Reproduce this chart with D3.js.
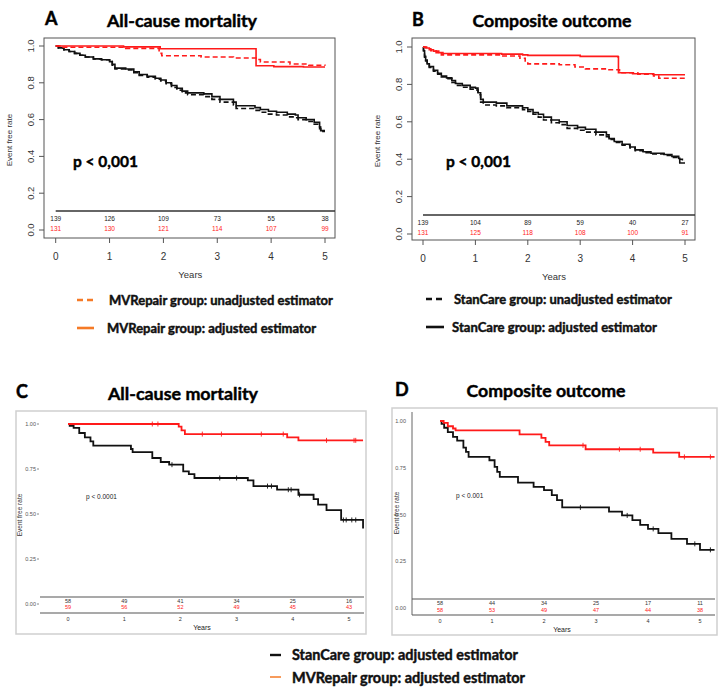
<!DOCTYPE html>
<html><head><meta charset="utf-8">
<script src="https://cdn.jsdelivr.net/npm/d3@7"></script>
<style>body{margin:0;background:#fff}svg{display:block}</style>
</head><body>
<script>
// ---------- DATA ----------
const years = [0, 1, 2, 3, 4, 5];
const yTicksAB = [0, 0.2, 0.4, 0.6, 0.8, 1.0];
const yTicksCD = [0, 0.25, 0.5, 0.75, 1.0];

// numbers at risk
const aRiskStan = [139, 126, 109, 73, 55, 38];
const aRiskMV   = [131, 130, 121, 114, 107, 99];
const bRiskStan = [139, 104, 89, 59, 40, 27];
const bRiskMV   = [131, 125, 118, 108, 100, 91];
const cRiskStan = [58, 49, 41, 34, 25, 16];
const cRiskMV   = [59, 56, 52, 49, 45, 43];
const dRiskStan = [58, 44, 34, 25, 17, 11];
const dRiskMV   = [58, 53, 49, 47, 44, 38];

// Kaplan-Meier steps [time, survival]
const aMVAdj = [[0,1],[1.26,0.995],[1.94,0.985],[3.72,0.893],[4.05,0.888],[4.6,0.886],[5,0.886]];
const aMVUnadj = [[0,1],[0.1,0.993],[1.3,0.987],[1.92,0.96],[1.97,0.947],[2.7,0.94],[3.3,0.935],[3.72,0.927],[3.8,0.913],[4.35,0.902],[4.7,0.895],[5,0.893]];
const aStanAdj = [[0,1],[0.05,0.99],[0.15,0.98],[0.25,0.97],[0.35,0.96],[0.45,0.95],[0.55,0.94],[0.7,0.93],[0.85,0.925],[1.0,0.915],[1.05,0.9],[1.1,0.88],[1.3,0.875],[1.45,0.86],[1.55,0.845],[1.7,0.835],[1.85,0.825],[1.95,0.815],[2.05,0.8],[2.15,0.785],[2.25,0.77],[2.35,0.755],[2.45,0.745],[2.75,0.74],[2.9,0.725],[3.05,0.71],[3.3,0.695],[3.35,0.675],[3.7,0.665],[3.8,0.655],[3.95,0.645],[4.1,0.64],[4.3,0.63],[4.45,0.625],[4.5,0.61],[4.65,0.6],[4.8,0.585],[4.9,0.56],[4.92,0.54],[5,0.54]];
const aStanUnadj = [[0,1],[0.05,0.99],[0.15,0.98],[0.25,0.97],[0.35,0.96],[0.45,0.95],[0.55,0.94],[0.7,0.93],[0.85,0.925],[1.0,0.915],[1.05,0.895],[1.1,0.875],[1.3,0.87],[1.45,0.855],[1.55,0.84],[1.7,0.83],[1.85,0.82],[1.95,0.81],[2.05,0.795],[2.15,0.775],[2.25,0.76],[2.35,0.745],[2.45,0.735],[2.75,0.725],[2.9,0.71],[3.05,0.695],[3.3,0.68],[3.35,0.66],[3.7,0.65],[3.8,0.64],[3.95,0.63],[4.1,0.625],[4.3,0.615],[4.45,0.61],[4.5,0.6],[4.65,0.59],[4.8,0.575],[4.9,0.55],[4.92,0.535],[5,0.535]];

const bMVAdj = [[0,1],[0.05,0.995],[0.12,0.985],[0.2,0.978],[0.3,0.97],[0.38,0.965],[1.5,0.962],[1.9,0.958],[2.0,0.955],[3.0,0.95],[3.72,0.947],[3.73,0.862],[4.0,0.857],[4.4,0.852],[5,0.852]];
const bMVUnadj = [[0,1],[0.07,0.99],[0.15,0.98],[0.25,0.97],[0.35,0.958],[1.5,0.952],[1.85,0.94],[1.95,0.925],[2.0,0.91],[2.6,0.905],[2.9,0.893],[3.1,0.883],[3.5,0.878],[3.75,0.862],[4.1,0.855],[4.4,0.845],[4.5,0.833],[5,0.832]];
const bStanAdj = [[0,1],[0.01,0.98],[0.03,0.95],[0.05,0.93],[0.08,0.91],[0.12,0.895],[0.2,0.875],[0.28,0.86],[0.35,0.845],[0.45,0.835],[0.55,0.82],[0.62,0.805],[0.75,0.795],[0.9,0.785],[1.0,0.78],[1.05,0.755],[1.1,0.72],[1.15,0.705],[1.4,0.7],[1.6,0.685],[1.9,0.675],[2.0,0.665],[2.1,0.65],[2.2,0.64],[2.3,0.625],[2.45,0.61],[2.6,0.6],[2.75,0.58],[2.95,0.57],[3.1,0.56],[3.3,0.545],[3.5,0.53],[3.55,0.51],[3.65,0.495],[3.8,0.48],[3.95,0.465],[4.05,0.45],[4.2,0.44],[4.35,0.432],[4.6,0.425],[4.75,0.415],[4.88,0.405],[4.9,0.38],[5,0.38]];
const bStanUnadj = [[0,1],[0.01,0.975],[0.03,0.945],[0.05,0.925],[0.08,0.905],[0.12,0.89],[0.2,0.87],[0.28,0.855],[0.35,0.84],[0.45,0.83],[0.55,0.81],[0.62,0.795],[0.75,0.785],[0.9,0.775],[1.0,0.77],[1.05,0.745],[1.1,0.705],[1.15,0.69],[1.4,0.685],[1.6,0.675],[1.9,0.665],[2.0,0.655],[2.1,0.64],[2.2,0.625],[2.3,0.61],[2.45,0.595],[2.6,0.585],[2.75,0.565],[2.95,0.555],[3.1,0.545],[3.3,0.53],[3.5,0.52],[3.55,0.505],[3.65,0.49],[3.8,0.475],[3.95,0.46],[4.05,0.445],[4.2,0.435],[4.35,0.428],[4.6,0.42],[4.75,0.41],[4.88,0.4],[4.95,0.39],[5,0.39]];

const cMV = [[0,1],[1.97,0.985],[2.02,0.965],[2.08,0.944],[3.9,0.926],[4.1,0.909],[5.25,0.909]];
const cMVCens = [1.5, 1.6, 2.39, 2.73, 3.44, 3.83, 4.6, 5.09, 5.12];
const cStan = [[0,1],[0.03,0.99],[0.1,0.978],[0.2,0.95],[0.3,0.926],[0.4,0.904],[0.45,0.88],[1.12,0.861],[1.15,0.844],[1.5,0.811],[1.65,0.789],[1.8,0.774],[2.05,0.737],[2.15,0.722],[2.25,0.7],[3.2,0.687],[3.3,0.655],[3.72,0.635],[4.1,0.607],[4.37,0.583],[4.45,0.552],[4.6,0.522],[4.86,0.467],[5.24,0.467],[5.25,0.42]];
const cStanCens = [1.85, 2.7, 3.0, 3.55, 3.62, 3.92, 3.97, 4.12, 4.9, 4.95, 5.05, 5.12];

const dMV = [[0,1],[0.07,0.99],[0.15,0.972],[0.25,0.96],[0.3,0.95],[1.53,0.929],[1.95,0.91],[2.03,0.888],[2.1,0.87],[2.8,0.849],[4.1,0.831],[4.6,0.808],[5.28,0.808]];
const dMVCens = [2.75, 3.45, 3.85, 4.7, 5.2];
const dStan = [[0,1],[0.03,0.985],[0.08,0.964],[0.15,0.941],[0.25,0.915],[0.33,0.895],[0.45,0.858],[0.5,0.835],[0.55,0.808],[0.95,0.79],[1.05,0.755],[1.1,0.728],[1.15,0.701],[1.5,0.67],[1.8,0.648],[2.0,0.63],[2.15,0.604],[2.25,0.577],[2.35,0.538],[3.25,0.515],[3.5,0.495],[3.7,0.47],[3.85,0.444],[4.0,0.423],[4.2,0.4],[4.45,0.37],[4.75,0.343],[5.0,0.311],[5.28,0.311]];
const dStanCens = [2.7, 3.6, 4.1, 4.9, 5.2];

// ---------- DRAW ----------
const RED = "#ff1a1a", ORANGE = "#f57a26", BLACK = "#111";
const svg = d3.select("body").append("svg").attr("width", 728).attr("height", 688);
const line = (x, y) => d3.line().x(d => x(d[0])).y(d => y(d[1])).curve(d3.curveStepAfter);
const calibri = "Lato, 'Open Sans', sans-serif";
const arial = "'Liberation Sans', Arial, sans-serif";

function fitText(sel, width) {
  const fs = parseFloat(sel.attr("font-size"));
  const w = sel.node().getComputedTextLength();
  sel.attr("font-size", (fs * width / w).toFixed(2));
}
function heavy(sel, col) {
  return sel.attr("fill", col).attr("stroke", col).attr("stroke-width", 0.45);
}

function heading(letter, lx, ly, title, cx, cy, w) {
  heavy(svg.append("text").attr("x", lx).attr("y", ly).attr("font-family", calibri).attr("font-weight", 700)
    .attr("font-size", 18).text(letter), "#000");
  const t = heavy(svg.append("text").attr("x", cx).attr("y", cy).attr("text-anchor", "middle")
    .attr("font-family", calibri).attr("font-weight", 700).attr("font-size", 18).text(title), "#000");
  fitText(t, w);
}

// R-style panels (A, B)
function rPanel(o) {
  const g = svg.append("g");
  const x = d3.scaleLinear().domain([0, 5]).range([o.x0, o.x5]);
  const y = d3.scaleLinear().domain([0, 1]).range([o.y0, o.y1]);
  g.append("rect").attr("x", o.l).attr("y", o.t).attr("width", o.r - o.l).attr("height", o.b - o.t)
    .attr("fill", "none").attr("stroke", "#555").attr("stroke-width", 1);
  yTicksAB.forEach(v => {
    g.append("line").attr("x1", o.l - 5).attr("x2", o.l).attr("y1", y(v)).attr("y2", y(v)).attr("stroke", "#555");
    g.append("text").attr("transform", `translate(${o.l - 10},${y(v)}) rotate(-90)`).attr("text-anchor", "middle")
      .attr("font-family", arial).attr("font-size", 9.5).attr("fill", "#333").text(v.toFixed(1));
  });
  years.forEach(v => {
    g.append("line").attr("x1", x(v)).attr("x2", x(v)).attr("y1", o.b).attr("y2", o.b + 5).attr("stroke", "#555");
    g.append("text").attr("x", x(v)).attr("y", o.b + 22).attr("text-anchor", "middle")
      .attr("font-family", arial).attr("font-size", 10).attr("fill", "#333").text(v);
  });
  g.append("text").attr("x", (o.x0 + o.x5) / 2).attr("y", o.b + 40).attr("text-anchor", "middle")
    .attr("font-family", arial).attr("font-size", 9.5).attr("fill", "#333").text("Years");
  g.append("text").attr("transform", `translate(${o.l - 32},${(o.t + o.b) / 2 + 2}) rotate(-90)`).attr("text-anchor", "middle")
    .attr("font-family", arial).attr("font-size", 8).attr("fill", "#333").text("Event free rate");
  g.append("line").attr("x1", o.x0).attr("x2", o.r).attr("y1", o.tableY).attr("y2", o.tableY).attr("stroke", "#333").attr("stroke-width", 1.3);
  years.forEach((v, i) => {
    g.append("text").attr("x", x(v)).attr("y", o.tableY + 10).attr("text-anchor", "middle")
      .attr("font-family", arial).attr("font-size", 6.5).attr("fill", "#222").text(o.riskStan[i]);
    g.append("text").attr("x", x(v)).attr("y", o.tableY + 19.5).attr("text-anchor", "middle")
      .attr("font-family", arial).attr("font-size", 6.5).attr("fill", RED).text(o.riskMV[i]);
  });
  const L = line(x, y);
  g.append("path").attr("d", L(o.stanUnadj)).attr("fill", "none").attr("stroke", BLACK).attr("stroke-width", 1.6).attr("stroke-dasharray", "5,3");
  g.append("path").attr("d", L(o.stanAdj)).attr("fill", "none").attr("stroke", BLACK).attr("stroke-width", 1.6);
  g.append("path").attr("d", L(o.mvUnadj)).attr("fill", "none").attr("stroke", RED).attr("stroke-width", 1.6).attr("stroke-dasharray", "5,3");
  g.append("path").attr("d", L(o.mvAdj)).attr("fill", "none").attr("stroke", RED).attr("stroke-width", 1.6);
  const p = heavy(g.append("text").attr("x", o.px).attr("y", o.py).attr("font-family", calibri).attr("font-weight", 700)
    .attr("font-size", 17).text("p < 0,001"), "#000");
  fitText(p, 65);
}

rPanel({l: 44, r: 335, t: 38, b: 238, x0: 55.7, x5: 325, y0: 230, y1: 46, tableY: 211,
  riskStan: aRiskStan, riskMV: aRiskMV, stanAdj: aStanAdj, stanUnadj: aStanUnadj, mvAdj: aMVAdj, mvUnadj: aMVUnadj, px: 73, py: 167});
rPanel({l: 412, r: 695, t: 38, b: 240, x0: 423, x5: 685, y0: 234, y1: 47, tableY: 215,
  riskStan: bRiskStan, riskMV: bRiskMV, stanAdj: bStanAdj, stanUnadj: bStanUnadj, mvAdj: bMVAdj, mvUnadj: bMVUnadj, px: 446, py: 167});

heading("A", 45, 25, "All-cause mortality", 182, 27, 150);
heading("B", 412, 26, "Composite outcome", 552, 27, 159);

// top legends
function legendItem(x1, x2, ly, dashed, color, tx, ty, label, w) {
  svg.append("line").attr("x1", x1).attr("x2", x2).attr("y1", ly).attr("y2", ly).attr("stroke", color)
    .attr("stroke-width", 2.6).attr("stroke-dasharray", dashed ? "6,4" : null);
  const t = heavy(svg.append("text").attr("x", tx).attr("y", ty).attr("font-family", calibri).attr("font-weight", 700)
    .attr("font-size", 13).text(label), "#111");
  fitText(t, w);
}
legendItem(77, 93, 300, true, ORANGE, 109, 304.5, "MVRepair group: unadjusted estimator", 224);
legendItem(77, 94, 328, false, ORANGE, 107, 332.5, "MVRepair group: adjusted estimator", 209);
legendItem(426, 442, 299, true, BLACK, 454, 304, "StanCare group: unadjusted estimator", 218);
legendItem(426, 444, 327, false, BLACK, 452, 332, "StanCare group: adjusted estimator", 205);

// survminer-style panels (C, D)
function sPanel(o) {
  const g = svg.append("g");
  const x = d3.scaleLinear().domain([0, 5]).range([o.x0, o.x5]);
  const y = d3.scaleLinear().domain([0, 1]).range([o.y0, o.y1]);
  g.append("rect").attr("x", o.bx).attr("y", o.by).attr("width", o.bw).attr("height", o.bh)
    .attr("fill", "none").attr("stroke", "#cfcfcf").attr("stroke-width", 1.5);
  if (o.axisLine) g.append("line").attr("x1", o.ax).attr("x2", o.ax).attr("y1", o.axTop).attr("y2", o.lineB).attr("stroke", "#666");
  yTicksCD.forEach(v => {
    g.append("text").attr("x", o.ylx).attr("y", y(v) + 2).attr("text-anchor", "end")
      .attr("font-family", arial).attr("font-size", 5.5).attr("fill", "#555").text(v.toFixed(2));
    if (!o.axisLine) g.append("line").attr("x1", o.ylx + 1).attr("x2", o.ylx + 3).attr("y1", y(v)).attr("y2", y(v)).attr("stroke", "#888");
  });
  g.append("line").attr("x1", o.ax).attr("x2", o.lr).attr("y1", o.lineT).attr("y2", o.lineT).attr("stroke", "#555").attr("stroke-width", 1.2);
  g.append("line").attr("x1", o.ax).attr("x2", o.lr).attr("y1", o.lineB).attr("y2", o.lineB).attr("stroke", "#555").attr("stroke-width", 1.2);
  years.forEach((v, i) => {
    g.append("text").attr("x", x(v)).attr("y", o.r1).attr("text-anchor", "middle")
      .attr("font-family", arial).attr("font-size", 5.5).attr("fill", "#333").text(o.riskStan[i]);
    g.append("text").attr("x", x(v)).attr("y", o.r2).attr("text-anchor", "middle")
      .attr("font-family", arial).attr("font-size", 5.5).attr("fill", RED).text(o.riskMV[i]);
    g.append("text").attr("x", x(v)).attr("y", o.lineB + 8).attr("text-anchor", "middle")
      .attr("font-family", arial).attr("font-size", 5.5).attr("fill", "#333").text(v);
  });
  g.append("text").attr("x", o.yrx).attr("y", o.lineB + 17).attr("text-anchor", "middle")
    .attr("font-family", arial).attr("font-size", 7).attr("fill", "#222").text("Years");
  g.append("text").attr("transform", `translate(${o.elx},${o.ely}) rotate(-90)`).attr("text-anchor", "middle")
    .attr("font-family", arial).attr("font-size", 6.5).attr("fill", "#333").text("Event free rate");
  g.append("text").attr("x", o.px).attr("y", o.py).attr("font-family", arial).attr("font-size", 6.5).attr("fill", "#222").text(o.ptext);
  const L = line(x, y);
  const lastVal = (pts, t) => { let s = 1; pts.forEach(d => { if (d[0] <= t) s = d[1]; }); return s; };
  [[o.stan, o.stanCens, BLACK], [o.mv, o.mvCens, RED]].forEach(([pts, cens, col]) => {
    g.append("path").attr("d", L(pts)).attr("fill", "none").attr("stroke", col).attr("stroke-width", 1.8);
    cens.forEach(t => {
      const v = lastVal(pts, t);
      g.append("line").attr("x1", x(t)).attr("x2", x(t)).attr("y1", y(v) - 2.5).attr("y2", y(v) + 2.5).attr("stroke", col).attr("stroke-width", 0.9);
    });
  });
}

sPanel({bx: 16, by: 411, bw: 350, bh: 223, x0: 68, x5: 349, y0: 604, y1: 424, axisLine: false, ax: 40, lr: 364,
  ylx: 36, lineT: 597, lineB: 613, r1: 603, r2: 608.5, yrx: 202, elx: 22, ely: 515, px: 86, py: 499, ptext: "p < 0.0001",
  riskStan: cRiskStan, riskMV: cRiskMV, stan: cStan, stanCens: cStanCens, mv: cMV, mvCens: cMVCens});
sPanel({bx: 392, by: 408, bw: 325, bh: 227, x0: 440, x5: 700, y0: 608, y1: 421, axisLine: true, ax: 412, axTop: 412, lr: 715,
  ylx: 406, lineT: 599, lineB: 615, r1: 605, r2: 612, yrx: 562, elx: 399, ely: 513, px: 456, py: 498, ptext: "p < 0.001",
  riskStan: dRiskStan, riskMV: dRiskMV, stan: dStan, stanCens: dStanCens, mv: dMV, mvCens: dMVCens});

heading("C", 16, 398, "All-cause mortality", 183, 400, 150);
heading("D", 395, 396, "Composite outcome", 546, 397, 159);

// bottom legend
function legend2(ly, color, sw, ty, label, w) {
  svg.append("line").attr("x1", 270).attr("x2", 281).attr("y1", ly).attr("y2", ly).attr("stroke", color).attr("stroke-width", sw);
  const t = heavy(svg.append("text").attr("x", 292).attr("y", ty).attr("font-family", calibri).attr("font-weight", 700)
    .attr("font-size", 14).text(label), "#111");
  fitText(t, w);
}
legend2(655, BLACK, 2.4, 660, "StanCare group: adjusted estimator", 226);
legend2(677, ORANGE, 1.5, 682.5, "MVRepair group: adjusted estimator", 233);
</script>
</body></html>
